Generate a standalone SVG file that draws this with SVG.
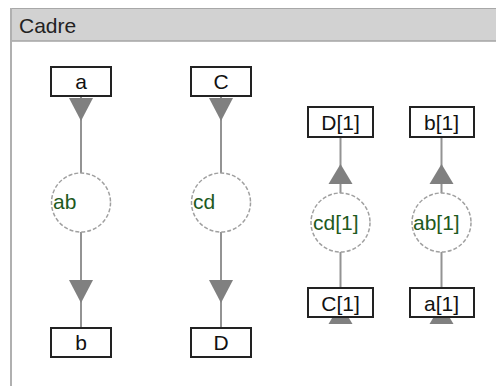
<svg xmlns="http://www.w3.org/2000/svg" xmlns:xlink="http://www.w3.org/1999/xlink" width="496" height="386" viewBox="0 0 496 386">
  <style>
    .title { font-family: "Liberation Sans", Arial, sans-serif; font-size: 21px; fill: #222; }
    .box rect { fill: #fff; stroke: #222; stroke-width: 2; }
    .box text { font-family: "Liberation Sans", Arial, sans-serif; font-size: 21px; fill: #111; text-anchor: middle; }
    .place circle { fill: #fff; stroke: #a0a0a0; stroke-width: 1.5; stroke-dasharray: 4 2; }
    .place text { font-family: "Liberation Sans", Arial, sans-serif; font-size: 21px; fill: #1e5a1e; }
    .edge { stroke: #939393; stroke-width: 2; fill: none; }
    .head { fill: #808080; }
  </style>
  <defs>
    <path id="tri-down" d="M-12,0 L12,0 L0,23 Z"/>
    <path id="tri-up" d="M-12,0 L12,0 L0,-20 Z"/>
  </defs>

  <rect x="0" y="0" width="496" height="386" fill="#fff"/>

  <!-- frame -->
  <g id="frame">
    <rect x="10" y="8" width="486" height="33" fill="#d2d2d2"/>
    <line x1="10" y1="8.5" x2="496" y2="8.5" stroke="#a8a8a8" stroke-width="1"/>
    <line x1="10" y1="41" x2="496" y2="41" stroke="#a4a4a4" stroke-width="1.5"/>
    <line x1="11" y1="8" x2="11" y2="386" stroke="#b0b0b0" stroke-width="2"/>
    <text class="title" x="19" y="33">Cadre</text>
  </g>

  <!-- connectors -->
  <g id="connectors">
    <line class="edge" x1="81" y1="97" x2="81" y2="173"/>
    <line class="edge" x1="81" y1="232" x2="81" y2="327"/>
    <line class="edge" x1="221" y1="97" x2="221" y2="173"/>
    <line class="edge" x1="221" y1="232" x2="221" y2="327"/>
    <line class="edge" x1="340.5" y1="138" x2="340.5" y2="193"/>
    <line class="edge" x1="340.5" y1="252" x2="340.5" y2="287"/>
    <line class="edge" x1="441.5" y1="138" x2="441.5" y2="193"/>
    <line class="edge" x1="441.5" y1="252" x2="441.5" y2="287"/>
    <use class="head" xlink:href="#tri-down" href="#tri-down" x="81" y="98"/>
    <use class="head" xlink:href="#tri-down" href="#tri-down" x="81" y="280"/>
    <use class="head" xlink:href="#tri-down" href="#tri-down" x="221" y="98"/>
    <use class="head" xlink:href="#tri-down" href="#tri-down" x="221" y="280"/>
    <use class="head" xlink:href="#tri-up" href="#tri-up" x="340.5" y="184"/>
    <use class="head" xlink:href="#tri-up" href="#tri-up" x="441.5" y="184"/>
    <use class="head" xlink:href="#tri-up" href="#tri-up" x="340.5" y="324"/>
    <use class="head" xlink:href="#tri-up" href="#tri-up" x="441.5" y="324"/>
  </g>

  <!-- column 1 -->
  <g id="a" class="box"><rect x="51" y="67" width="60" height="29"/><text x="81" y="89">a</text></g>
  <g id="ab" class="place"><circle cx="81" cy="202.5" r="29.5"/><text x="53" y="209">ab</text></g>
  <g id="b" class="box"><rect x="51" y="328" width="60" height="29"/><text x="81" y="350">b</text></g>

  <!-- column 2 -->
  <g id="C" class="box"><rect x="191" y="67" width="60" height="29"/><text x="221" y="89">C</text></g>
  <g id="cd" class="place"><circle cx="221" cy="202.5" r="29.5"/><text x="193" y="209">cd</text></g>
  <g id="D" class="box"><rect x="191" y="328" width="60" height="29"/><text x="221" y="350">D</text></g>

  <!-- column 3 -->
  <g id="D1" class="box"><rect x="308" y="107" width="65" height="30"/><text x="340.5" y="130">D[1]</text></g>
  <g id="cd1" class="place"><circle cx="340.5" cy="222.5" r="29.5"/><text x="313" y="230">cd[1]</text></g>
  <g id="C1" class="box"><rect x="308" y="288" width="65" height="29"/><text x="340.5" y="311">C[1]</text></g>

  <!-- column 4 -->
  <g id="b1" class="box"><rect x="410" y="107" width="64" height="30"/><text x="441.5" y="130">b[1]</text></g>
  <g id="ab1" class="place"><circle cx="441.5" cy="222.5" r="29.5"/><text x="413" y="230">ab[1]</text></g>
  <g id="a1" class="box"><rect x="410" y="288" width="64" height="29"/><text x="441.5" y="311">a[1]</text></g>
</svg>
